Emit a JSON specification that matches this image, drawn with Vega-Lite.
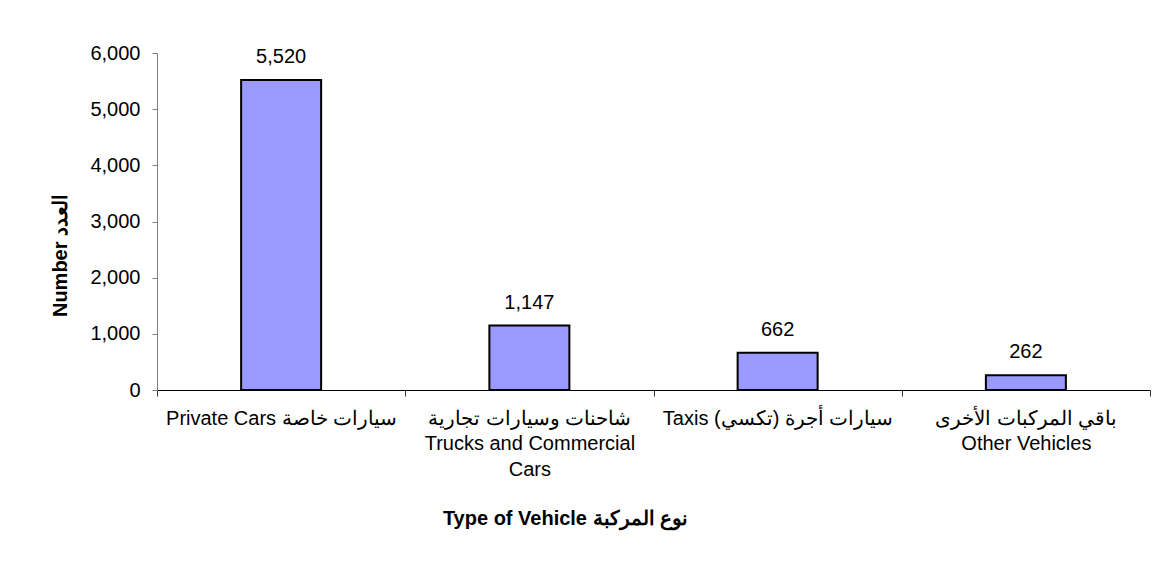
{
  "$schema": "https://vega.github.io/schema/vega-lite/v6.json",
  "width": 993,
  "height": 337,
  "autosize": {"type": "none"},
  "padding": {"left": 157, "top": 53, "right": 26, "bottom": 179},
  "background": "white",
  "config": {
    "font": "Liberation Sans",
    "view": {"stroke": null}
  },
  "data": {
    "values": [
      {"vehicle": "Private Cars سيارات خاصة", "count": 5520},
      {"vehicle": "شاحنات وسيارات تجارية|Trucks and Commercial|Cars", "count": 1147},
      {"vehicle": "Taxis سيارات أجرة (تكسي)", "count": 662},
      {"vehicle": "باقي المركبات الأخرى|Other Vehicles", "count": 262}
    ]
  },
  "encoding": {
    "x": {
      "field": "vehicle",
      "type": "nominal",
      "sort": null,
      "scale": {"paddingInner": 0, "paddingOuter": 0},
      "axis": {
        "title": "Type of Vehicle نوع المركبة",
        "titleFontSize": 20,
        "titleFontWeight": "bold",
        "titleColor": "black",
        "titleX": 408,
        "titleY": 128,
        "titleAlign": "center",
        "titleBaseline": "middle",
        "labelAngle": 0,
        "labelExpr": "isString(datum.value) ? split(datum.value, '|') : ''",
        "labelLimit": 1000,
        "labelFontSize": 20,
        "labelColor": "black",
        "labelLineHeight": 25.5,
        "labelPadding": 12,
        "labelBaseline": "top",
        "tickBand": "extent",
        "tickSize": 6,
        "tickColor": "#333333",
        "domainColor": "black",
        "domainWidth": 1,
        "grid": false
      }
    },
    "y": {
      "field": "count",
      "type": "quantitative",
      "scale": {"domain": [0, 6000], "nice": false},
      "axis": {
        "title": "Number العدد",
        "titleFontSize": 20,
        "titleFontWeight": "bold",
        "titleColor": "black",
        "titleAngle": -90,
        "titleX": -97,
        "titleY": 202,
        "titleAlign": "center",
        "titleBaseline": "middle",
        "values": [0, 1000, 2000, 3000, 4000, 5000, 6000],
        "format": ",.0f",
        "labelFontSize": 20,
        "labelColor": "black",
        "labelPadding": 12,
        "tickSize": 5,
        "tickColor": "#808080",
        "domainColor": "#808080",
        "grid": false
      }
    }
  },
  "layer": [
    {
      "mark": {"type": "bar", "size": 80, "fill": "#9999FF", "stroke": "black", "strokeWidth": 2}
    },
    {
      "mark": {"type": "text", "fontSize": 20, "color": "black", "baseline": "alphabetic", "dy": -17},
      "encoding": {
        "text": {"field": "count", "type": "quantitative", "format": ","}
      }
    }
  ]
}
